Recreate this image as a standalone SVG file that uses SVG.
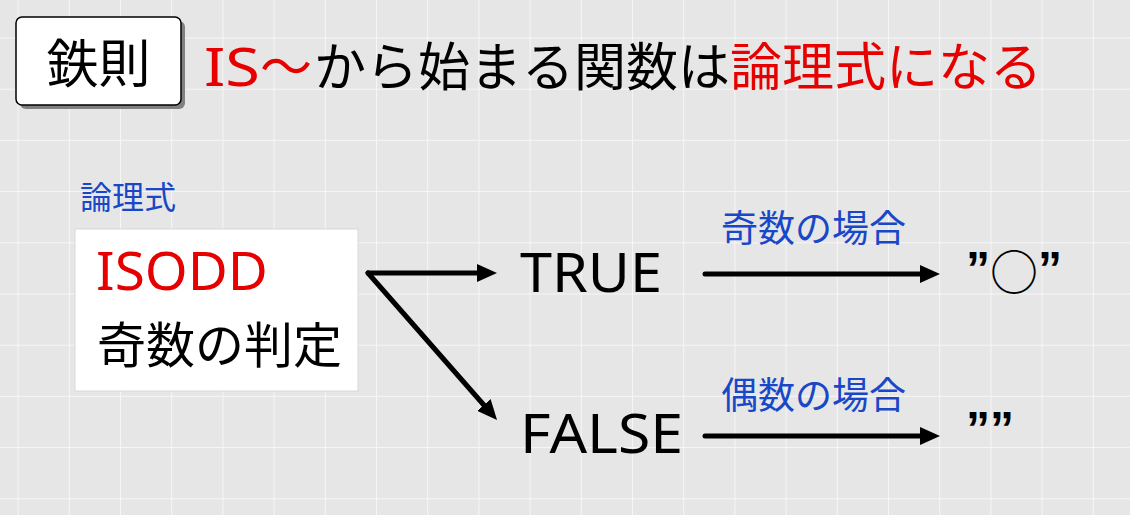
<svg xmlns="http://www.w3.org/2000/svg" width="1130" height="515" viewBox="0 0 1130 515">
<defs>
<pattern id="grid" patternUnits="userSpaceOnUse" x="17.6" y="37.5" width="51.2" height="51.2">
<rect width="51.2" height="51.2" fill="#e6e6e6"/>
<path d="M0,0 V51.2 M0,0 H51.2" stroke="#f6f6f6" stroke-width="2" fill="none"/>
</pattern>
<marker id="ah" viewBox="0 0 20 18" refX="6" refY="9" markerWidth="20" markerHeight="18" markerUnits="userSpaceOnUse" orient="auto">
<path d="M0,0 L20,9 L0,18 Z" fill="#000"/>
</marker>
<style>
.jp{font-family:"Noto Sans CJK JP","Noto Sans",sans-serif;}
.lat{font-family:"Noto Sans","Noto Sans CJK JP",sans-serif;}
.red{fill:#e60000;}
.blk{fill:#000;}
.blue{fill:#1848c8;}
.q{font-family:"Liberation Sans",Arial,sans-serif;font-size:48px;font-weight:bold;fill:#000;}
.circ{font-family:"Noto Sans CJK JP",sans-serif;font-size:48px;font-weight:normal;}
.arr{stroke:#000;stroke-width:5;stroke-linecap:round;fill:none;marker-end:url(#ah);}
</style>
</defs>
<rect width="1130" height="515" fill="url(#grid)"/>

<g id="title-box">
<rect x="20" y="21" width="165" height="88" rx="6" fill="#808080"/>
<rect x="16" y="17" width="165" height="88" rx="6" fill="#fff" stroke="#000" stroke-width="1.5"/>
<text class="jp blk" x="98.5" y="83" font-size="52" text-anchor="middle">鉄則</text>
</g>

<g id="title">
<text class="jp" y="86" font-size="52"><tspan class="lat red" x="204" textLength="56" lengthAdjust="spacingAndGlyphs">IS</tspan><tspan class="red" x="260">～</tspan><tspan class="blk" x="314">から始まる関数は</tspan><tspan class="red" x="730">論理式になる</tspan></text>
</g>

<g id="label-logic">
<text class="jp blue" x="80" y="209" font-size="32">論理式</text>
</g>

<g id="node-isodd">
<rect x="75" y="229" width="283" height="162" fill="#fff" stroke="#d8d8d8" stroke-width="1"/>
<text class="lat red" x="96" y="290" font-size="53" textLength="172" lengthAdjust="spacingAndGlyphs">ISODD</text>
<text class="jp blk" x="97" y="363" font-size="49">奇数の判定</text>
</g>

<g id="node-true">
<text class="lat blk" x="520" y="292" font-size="54" textLength="142" lengthAdjust="spacingAndGlyphs">TRUE</text>
</g>

<g id="node-false">
<text class="lat blk" x="520" y="453" font-size="54" textLength="163" lengthAdjust="spacingAndGlyphs">FALSE</text>
</g>

<g id="node-result-odd">
<text class="q" y="284.5"><tspan x="966">”</tspan><tspan class="circ" x="990" y="290">○</tspan><tspan x="1038" y="284.5">”</tspan></text>
</g>

<g id="node-result-even">
<text class="q" y="444.5"><tspan x="966">”</tspan><tspan x="990">”</tspan></text>
</g>

<g id="connectors">
<line class="arr" x1="368" y1="273" x2="483" y2="273"/>
<line class="arr" x1="368" y1="273" x2="487.8" y2="409.5"/>
<line class="arr" x1="705" y1="274" x2="926" y2="274"/>
<line class="arr" x1="705" y1="436" x2="926" y2="436"/>
<text class="jp blue" x="721" y="242" font-size="37">奇数の場合</text>
<text class="jp blue" x="721" y="409" font-size="37">偶数の場合</text>
</g>
</svg>
